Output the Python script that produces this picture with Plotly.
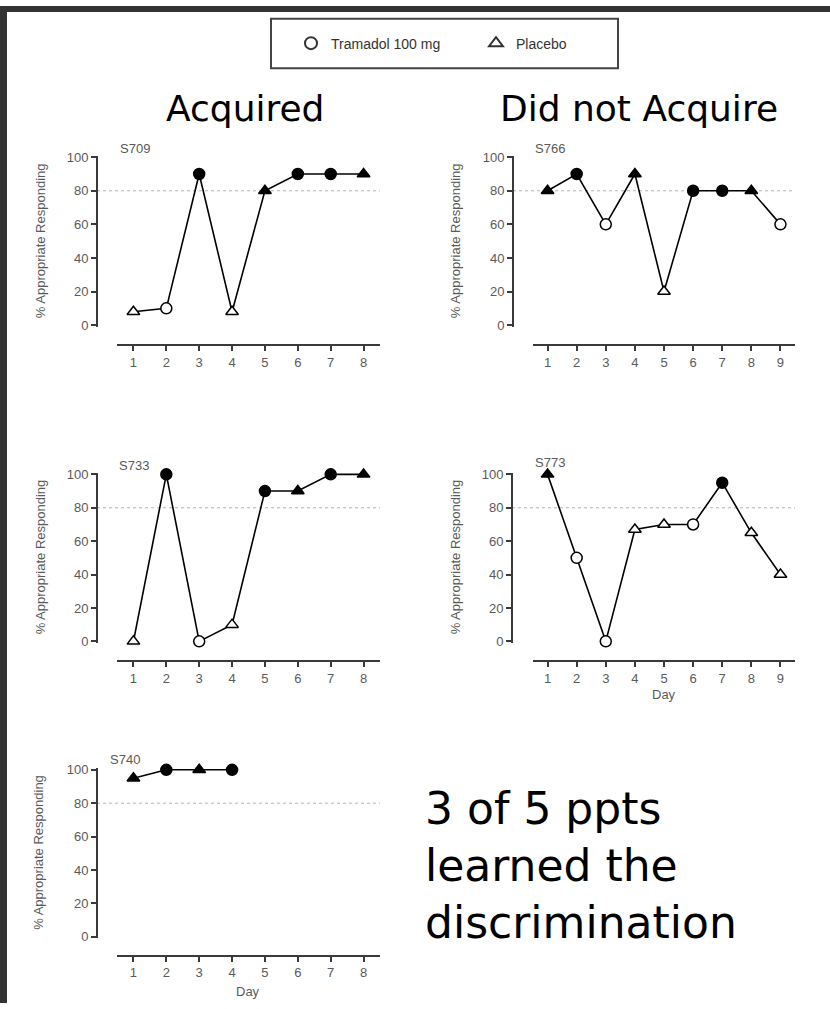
import plotly.graph_objects as go

W, H = 830, 1009

# ---- data -------------------------------------------------------------
# condition per session: "T" = Tramadol 100 mg, "P" = Placebo
s709_days = [1, 2, 3, 4, 5, 6, 7, 8]
s709_pct = [8, 10, 90, 8, 80, 90, 90, 90]
s709_cond = ["P", "T", "T", "P", "P", "T", "T", "P"]

s766_days = [1, 2, 3, 4, 5, 6, 7, 8, 9]
s766_pct = [80, 90, 60, 90, 20, 80, 80, 80, 60]
s766_cond = ["P", "T", "T", "P", "P", "T", "T", "P", "T"]

s733_days = [1, 2, 3, 4, 5, 6, 7, 8]
s733_pct = [0, 100, 0, 10, 90, 90, 100, 100]
s733_cond = ["P", "T", "T", "P", "T", "P", "T", "P"]

s773_days = [1, 2, 3, 4, 5, 6, 7, 8, 9]
s773_pct = [100, 50, 0, 67, 70, 70, 95, 65, 40]
s773_cond = ["P", "T", "T", "P", "P", "T", "T", "P", "P"]

s740_days = [1, 2, 3, 4]
s740_pct = [95, 100, 100, 100]
s740_cond = ["P", "T", "P", "T"]

y_ticks = [0, 20, 40, 60, 80, 100]
CRITERION = 80  # % appropriate responding needed to count as acquired

# ---- panel geometry (pixels) -----------------------------------------
panels = [
    dict(name="S709", days=s709_days, pct=s709_pct, cond=s709_cond, n=8,
         yx=97, ytop=153, ybot=323, xy=343, xl=117, xr=380,
         lab=(118, 144), ytitle=(40, 238), day=None),
    dict(name="S766", days=s766_days, pct=s766_pct, cond=s766_cond, n=9,
         yx=513, ytop=153, ybot=323, xy=343, xl=533, xr=795,
         lab=(533, 144), ytitle=(455, 238), day=None),
    dict(name="S733", days=s733_days, pct=s733_pct, cond=s733_cond, n=8,
         yx=97, ytop=474, ybot=643, xy=663, xl=117, xr=380,
         lab=(117, 465), ytitle=(40, 558), day=None),
    dict(name="S773", days=s773_days, pct=s773_pct, cond=s773_cond, n=9,
         yx=512, ytop=474, ybot=643, xy=663, xl=533, xr=795,
         lab=(533, 462), ytitle=(455, 558), day=(664, 697)),
    dict(name="S740", days=s740_days, pct=s740_pct, cond=s740_cond, n=8,
         yx=97, ytop=773, ybot=942, xy=961, xl=117, xr=380,
         lab=(108, 763), ytitle=(39, 857), day=(248, 997)),
]


def fx(px):
    return px / W


def fy(py):
    return 1 - py / H


AX_COLOR = "#3a3a3a"
TXT_COLOR = "#5a5a5a"
SMALL_FONT = dict(family="Liberation Sans, Arial, sans-serif", size=13, color=TXT_COLOR)
BIG_FAMILY = "DejaVu Sans, sans-serif"

fig = go.Figure()
layout_axes = {}
shapes = []
annotations = []

for i, p in enumerate(panels, start=1):
    xa = "x" if i == 1 else f"x{i}"
    ya = "y" if i == 1 else f"y{i}"
    xkey = "xaxis" if i == 1 else f"xaxis{i}"
    ykey = "yaxis" if i == 1 else f"yaxis{i}"

    # small padding on the y range so lines along 0/100 are not clipped
    ppu = (p["ybot"] - p["ytop"]) / 100.0
    pad = 1.0
    layout_axes[xkey] = dict(
        domain=[fx(p["xl"]), fx(p["xr"])], range=[0.5, p["n"] + 0.5],
        anchor="free", position=fy(p["xy"]),
        showline=True, linecolor=AX_COLOR, linewidth=2,
        ticks="outside", ticklen=5, tickwidth=1.5, tickcolor=AX_COLOR,
        tickvals=list(range(1, p["n"] + 1)), tickfont=SMALL_FONT,
        showgrid=False, zeroline=False, fixedrange=True,
    )
    layout_axes[ykey] = dict(
        domain=[fy(p["ybot"] + pad * ppu), fy(p["ytop"] - pad * ppu)],
        range=[-pad, 100 + pad],
        anchor="free", position=fx(p["yx"]),
        showline=True, linecolor=AX_COLOR, linewidth=2,
        ticks="outside", ticklen=5, tickwidth=1.5, tickcolor=AX_COLOR,
        tickvals=y_ticks, tickfont=SMALL_FONT,
        showgrid=False, zeroline=False, fixedrange=True,
    )

    # acquisition criterion
    shapes.append(dict(type="line", xref="paper", yref=ya,
                       x0=fx(p["yx"]), x1=fx(p["xr"]), y0=CRITERION, y1=CRITERION,
                       line=dict(color="#b5b5b5", width=1, dash="dot"), layer="below"))

    fig.add_trace(go.Scatter(
        x=p["days"], y=p["pct"], mode="lines", xaxis=xa, yaxis=ya,
        line=dict(color="black", width=1.6), showlegend=False,
        hoverinfo="skip", cliponaxis=False,
    ))
    symbols = ["circle" if c == "T" else "triangle-up" for c in p["cond"]]
    fills = ["black" if v >= CRITERION else "white" for v in p["pct"]]
    fig.add_trace(go.Scatter(
        x=p["days"], y=p["pct"], mode="markers", xaxis=xa, yaxis=ya,
        marker=dict(symbol=symbols, color=fills, size=11,
                    line=dict(color="black", width=1.5)),
        showlegend=False, cliponaxis=False,
    ))

    annotations.append(dict(text=p["name"], x=fx(p["lab"][0]), y=fy(p["lab"][1]),
                            xref="paper", yref="paper", xanchor="left", yanchor="middle",
                            showarrow=False, font=SMALL_FONT))
    annotations.append(dict(text="% Appropriate Responding", textangle=-90,
                            x=fx(p["ytitle"][0]), y=fy(p["ytitle"][1]),
                            xref="paper", yref="paper", xanchor="center", yanchor="middle",
                            showarrow=False, font=SMALL_FONT))
    if p["day"]:
        annotations.append(dict(text="Day", x=fx(p["day"][0]), y=fy(p["day"][1]),
                                xref="paper", yref="paper", xanchor="center",
                                yanchor="middle", showarrow=False, font=SMALL_FONT))

# legend entries
fig.add_trace(go.Scatter(x=[None], y=[None], mode="markers", name="Tramadol 100 mg",
                         marker=dict(symbol="circle", color="white", size=12,
                                     line=dict(color="#333", width=2))))
fig.add_trace(go.Scatter(x=[None], y=[None], mode="markers", name="Placebo",
                         marker=dict(symbol="triangle-up", color="white", size=12,
                                     line=dict(color="#333", width=2))))

# slide frame and legend box
shapes += [
    dict(type="rect", xref="paper", yref="paper", x0=0, x1=fx(7), y0=0, y1=1,
         fillcolor="#333333", line=dict(width=0)),
    dict(type="rect", xref="paper", yref="paper", x0=0, x1=1, y0=fy(6), y1=1,
         fillcolor="#333333", line=dict(width=0)),
    dict(type="rect", xref="paper", yref="paper", x0=fx(271), x1=fx(618),
         y0=fy(63), y1=fy(13), line=dict(color="#444", width=2)),
]

# group headings and summary note
HEAD_FONT = dict(family=BIG_FAMILY, size=36, color="black")
NOTE_FONT = dict(family=BIG_FAMILY, size=44, color="black")
annotations += [
    dict(text="Acquired", x=fx(245), y=fy(104), xref="paper", yref="paper",
         xanchor="center", yanchor="middle", showarrow=False, font=HEAD_FONT),
    dict(text="Did not Acquire", x=fx(639), y=fy(104), xref="paper", yref="paper",
         xanchor="center", yanchor="middle", showarrow=False, font=HEAD_FONT),
    dict(text="3 of 5 ppts<br>learned the<br>discrimination",
         x=fx(423), y=fy(870), xref="paper", yref="paper", align="left",
         xanchor="left", yanchor="middle", showarrow=False, font=NOTE_FONT),
]

fig.update_layout(
    width=W, height=H, margin=dict(l=0, r=0, t=0, b=0),
    paper_bgcolor="white", plot_bgcolor="rgba(0,0,0,0)",
    shapes=shapes, annotations=annotations,
    showlegend=True,
    legend=dict(orientation="h", x=fx(291), y=fy(38), xanchor="left", yanchor="middle",
                entrywidth=140, entrywidthmode="pixels",
                bgcolor="rgba(0,0,0,0)", font=dict(family="Liberation Sans, Arial",
                                                     size=14, color="#333"),
                itemclick=False, itemdoubleclick=False),
    **layout_axes,
)

fig.write_html("out.html", config={"displayModeBar": False})
